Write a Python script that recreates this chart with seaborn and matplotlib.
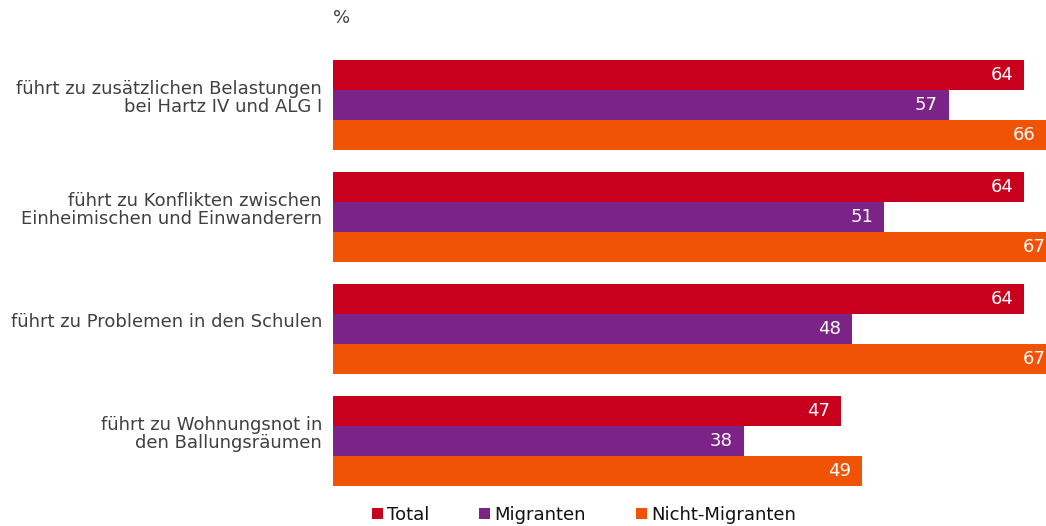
import matplotlib
matplotlib.use("Agg")
import matplotlib.pyplot as plt
from matplotlib.patches import Patch
import seaborn as sns
import pandas as pd

# Survey items (y-axis categories)
categories = [
    "führt zu zusätzlichen Belastungen\nbei Hartz IV und ALG I",
    "führt zu Konflikten zwischen\nEinheimischen und Einwanderern",
    "führt zu Problemen in den Schulen",
    "führt zu Wohnungsnot in\nden Ballungsräumen",
]
series = ["Total", "Migranten", "Nicht-Migranten"]

# Shares in percent
total = [64, 64, 64, 47]
migranten = [57, 51, 48, 38]
nicht_migranten = [66, 67, 67, 49]

colors = ["#C8001E", "#7B2386", "#F05206"]
text_grey = "#404040"
fs = 13

df = pd.DataFrame({
    "item": categories * 3,
    "group": [s for s in series for _ in categories],
    "value": total + migranten + nicht_migranten,
})

sns.set_theme(style="white")
plt.rcParams["font.family"] = ["DejaVu Sans"]

W, H = 1046, 526
fig = plt.figure(figsize=(W / 100, H / 100), dpi=100)
ax = fig.add_axes([333 / W, 1 - 497 / H, (W - 333) / W, (497 - 49) / H])

sns.barplot(
    data=df, y="item", x="value", hue="group", hue_order=series,
    order=categories, orient="h", palette=colors, saturation=1,
    width=0.804, legend=False, linewidth=0, ax=ax,
)

ax.set_xlim(0, 66)
ax.set_ylim(3.5, -0.5)
ax.set_xlabel("")
ax.set_ylabel("")
ax.set_xticks([])
ax.set_yticklabels([])
ax.tick_params(axis="y", length=0)
sns.despine(ax=ax, left=True, bottom=True)

# Category labels, right-aligned left of the bars
for i, cat in enumerate(categories):
    ax.annotate(
        cat, xy=(0, i), xycoords=("axes fraction", "data"),
        xytext=(-11, 7), textcoords="offset pixels",
        ha="right", va="center", fontsize=fs, color=text_grey,
        linespacing=1.0, annotation_clip=False,
    )

# Value labels inside the bar ends
for container in ax.containers:
    for bar in container:
        v = bar.get_width()
        y = bar.get_y() + bar.get_height() / 2
        ax.annotate(
            f"{v:.0f}", xy=(v, y), xytext=(-11, 0), textcoords="offset pixels",
            ha="right", va="center", color="white", fontsize=fs,
            annotation_clip=False,
        )

fig.text(333 / W, 1 - 18 / H, "%", ha="left", va="center",
         fontsize=fs, color=text_grey)

handles = [Patch(facecolor=c, edgecolor="none") for c in colors]
fig.legend(
    handles, series, loc="center", bbox_to_anchor=(584 / W, 1 - 515 / H),
    ncol=3, frameon=False, fontsize=fs, handlelength=0.6, handleheight=0.6,
    handletextpad=0.25, columnspacing=2.75, borderpad=0, borderaxespad=0,
    labelcolor="#111111",
)

fig.savefig("out.png", dpi=100)
